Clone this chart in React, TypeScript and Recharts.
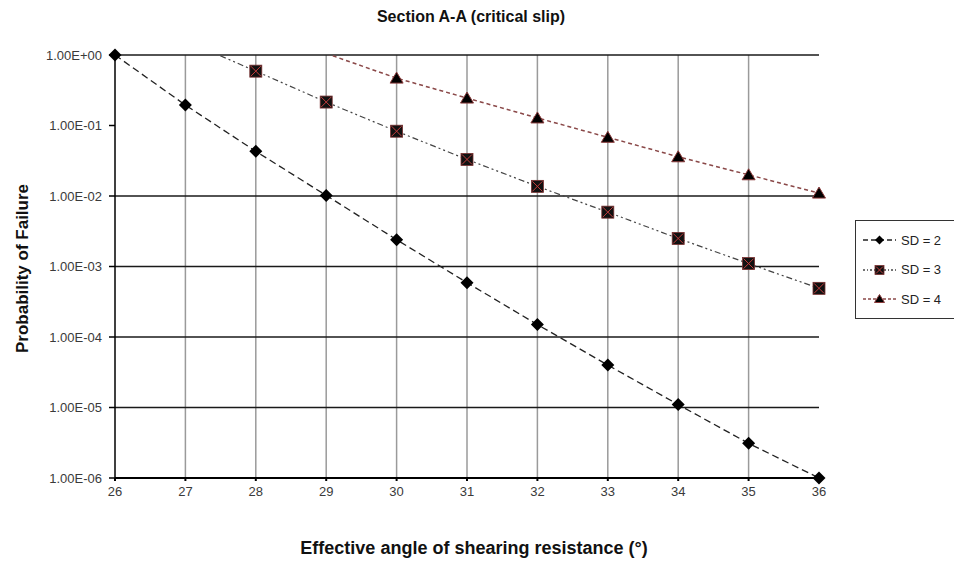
import React from 'react'
import { LineChart, Line, XAxis, YAxis, ReferenceLine } from 'recharts'

// angle of shearing resistance (deg) and probability of failure per SD
const angles = [26, 27, 28, 29, 30, 31, 32, 33, 34, 35, 36]
const sd2 = [1.0, 0.195, 0.043, 0.0102, 0.0024, 0.00059, 0.00015, 0.00004, 0.000011, 0.0000031, 0.000001]
const sd3 = [null, 1.6, 0.59, 0.215, 0.083, 0.033, 0.0137, 0.0059, 0.0025, 0.0011, 0.00049]
const sd4 = [null, null, null, 1.05, 0.47, 0.245, 0.128, 0.068, 0.036, 0.02, 0.011]

const yTicks = [1, 0.1, 0.01, 0.001, 0.0001, 0.00001, 0.000001]
// the original has no horizontal line at 1E-01
const yGridLines = [1, 0.01, 0.001, 0.0001, 0.00001]
const xGridLines = angles.slice(1, -1)

const seriesNames = ['SD = 2', 'SD = 3', 'SD = 4']

const FONT = '"Liberation Sans", Arial, sans-serif'

const data = angles.map((a, i) => ({
  angle: a,
  sd2: sd2[i],
  sd3: sd3[i],
  sd4: sd4[i],
  // markers are only shown for points inside the plotted range
  sd2m: sd2[i] != null && sd2[i]! <= 1 ? sd2[i] : null,
  sd3m: sd3[i] != null && sd3[i]! <= 1 ? sd3[i] : null,
  sd4m: sd4[i] != null && sd4[i]! <= 1 ? sd4[i] : null,
}))

const fmtExp = (v: number) => {
  const e = Math.round(Math.log10(v))
  const m = v / Math.pow(10, e)
  return `${m.toFixed(2)}E${e < 0 ? '-' : '+'}${String(Math.abs(e)).padStart(2, '0')}`
}

const Diamond = ({ cx, cy, s = 6.5 }: any) => (
  <polygon points={`${cx},${cy - s} ${cx + s},${cy} ${cx},${cy + s} ${cx - s},${cy}`} fill="#000" />
)

const XSquare = ({ cx, cy, s = 6 }: any) => (
  <g>
    <rect x={cx - s} y={cy - s} width={s * 2} height={s * 2} fill="#111" stroke="#7a3030" strokeWidth={0.8} />
    <line x1={cx - s + 1} y1={cy - s + 1} x2={cx + s - 1} y2={cy + s - 1} stroke="#c43c3c" strokeWidth={1} />
    <line x1={cx + s - 1} y1={cy - s + 1} x2={cx - s + 1} y2={cy + s - 1} stroke="#c43c3c" strokeWidth={1} />
  </g>
)

const Tri = ({ cx, cy, s = 6 }: any) => (
  <polygon
    points={`${cx},${cy - s} ${cx + s + 0.5},${cy + s - 1} ${cx - s - 0.5},${cy + s - 1}`}
    fill="#000"
    stroke="#8a3a3a"
    strokeWidth={1}
  />
)

const markerDot = (Shape: any) => (props: any) => {
  const { cx, cy, index } = props
  if (cx == null || cy == null || props.value == null) return <g key={index} />
  return <Shape key={index} cx={cx} cy={cy} />
}

const legendItems = [
  { name: seriesNames[0], stroke: '#222', dash: '5 3', Shape: Diamond },
  { name: seriesNames[1], stroke: '#444', dash: '2 2 1 2', Shape: XSquare },
  { name: seriesNames[2], stroke: '#8a4848', dash: '3 2', Shape: Tri },
]

export default function App() {
  return (
    <div style={{ position: 'absolute', left: 0, top: 0, width: 954, height: 568, overflow: 'hidden', background: '#fff', fontFamily: FONT }}>
      <div style={{ position: 'absolute', left: 0, top: 7, width: 942, textAlign: 'center', fontSize: 16, fontWeight: 'bold', lineHeight: '20px', color: '#111' }}>
        Section A-A (critical slip)
      </div>

      <LineChart width={954} height={568} data={data} margin={{ top: 55, right: 135, bottom: 0, left: 0 }}>
        <XAxis
          dataKey="angle"
          type="number"
          domain={[26, 36]}
          ticks={angles}
          height={90}
          tick={{ fontSize: 13, fill: '#3a3a3a', fontFamily: FONT }}
          tickSize={3}
          tickMargin={6}
          axisLine={{ stroke: '#000', strokeWidth: 2 }}
          tickLine={{ stroke: '#000', strokeWidth: 2 }}
          label={{
            content: (p: any) => {
              const vb = p.viewBox
              return (
                <text x={vb.x + vb.width / 2 + 7} y={vb.y + 76} textAnchor="middle" fontSize={18} fontWeight="bold" fill="#111" fontFamily={FONT}>
                  Effective angle of shearing resistance (°)
                </text>
              )
            },
          }}
        />
        <YAxis
          yAxisId="main"
          scale="log"
          domain={[0.000001, 1]}
          allowDataOverflow
          ticks={yTicks}
          tickFormatter={fmtExp}
          width={115}
          tick={{ fontSize: 13, fill: '#3a3a3a', fontFamily: FONT }}
          tickSize={6}
          tickMargin={7}
          axisLine={{ stroke: '#000', strokeWidth: 1.5 }}
          tickLine={{ stroke: '#000', strokeWidth: 1.5 }}
          label={{
            content: (p: any) => {
              const vb = p.viewBox
              const cx = vb.x + 22
              const cy = vb.y + vb.height / 2 + 2
              return (
                <text x={cx} y={cy} transform={`rotate(-90 ${cx} ${cy})`} textAnchor="middle" dominantBaseline="central" fontSize={17} fontWeight="bold" fill="#111" fontFamily={FONT}>
                  Probability of Failure
                </text>
              )
            },
          }}
        />
        <YAxis yAxisId="marks" scale="log" domain={[0.000001, 1]} hide />

        {xGridLines.map(x => (
          <ReferenceLine key={'vx' + x} yAxisId="main" x={x} stroke="#9a9a9a" strokeWidth={1.5} />
        ))}
        {yGridLines.map(y => (
          <ReferenceLine key={'hy' + y} yAxisId="main" y={y} stroke="#1a1a1a" strokeWidth={1.5} />
        ))}

        <Line yAxisId="main" dataKey="sd2" stroke="#222" strokeWidth={1.3} strokeDasharray="7 4" dot={false} activeDot={false} isAnimationActive={false} />
        <Line yAxisId="main" dataKey="sd3" stroke="#444" strokeWidth={1.2} strokeDasharray="6 3 2 3 2 3" dot={false} activeDot={false} isAnimationActive={false} />
        <Line yAxisId="main" dataKey="sd4" stroke="#8a4848" strokeWidth={1.5} strokeDasharray="4 3" dot={false} activeDot={false} isAnimationActive={false} />

        <Line yAxisId="marks" dataKey="sd2m" stroke="none" dot={markerDot(Diamond)} activeDot={false} isAnimationActive={false} />
        <Line yAxisId="marks" dataKey="sd3m" stroke="none" dot={markerDot(XSquare)} activeDot={false} isAnimationActive={false} />
        <Line yAxisId="marks" dataKey="sd4m" stroke="none" dot={markerDot(Tri)} activeDot={false} isAnimationActive={false} />
      </LineChart>

      <div style={{ position: 'absolute', left: 855, top: 220, width: 130, height: 97, border: '1px solid #333', background: '#fff' }}>
        {legendItems.map((it, i) => (
          <div key={it.name} style={{ position: 'absolute', left: 0, top: 9 + i * 29.5, height: 20, display: 'flex', alignItems: 'center' }}>
            <svg width={44} height={20} style={{ display: 'block' }}>
              <line x1={7} y1={10} x2={40} y2={10} stroke={it.stroke} strokeWidth={1.3} strokeDasharray={it.dash} />
              <it.Shape cx={23.5} cy={10} s={4.5} />
            </svg>
            <span style={{ fontSize: 13, color: '#222', marginLeft: 1, whiteSpace: 'nowrap' }}>{it.name}</span>
          </div>
        ))}
      </div>
    </div>
  )
}
